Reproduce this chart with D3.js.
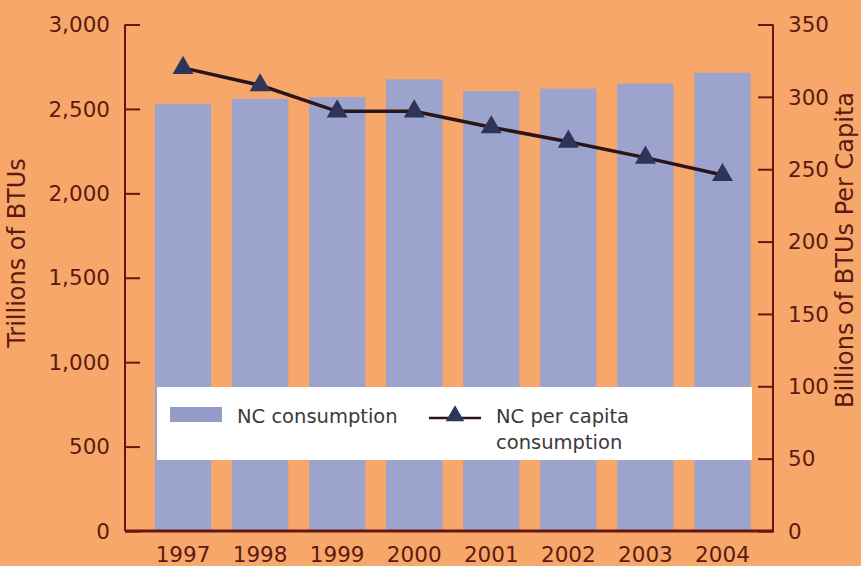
<!DOCTYPE html>
<html>
<head>
<meta charset="utf-8">
<script src="https://cdn.jsdelivr.net/npm/d3@7"></script>
<style>
  html, body { margin: 0; padding: 0; background: #F8A76A; }
  svg { display: block; }
  text { font-family: "DejaVu Sans", sans-serif; fill: #5C1A12; }
</style>
</head>
<body>
<svg id="chart" width="861" height="566"></svg>
<script>
// North Carolina energy consumption, 1997–2004
const years = ["1997", "1998", "1999", "2000", "2001", "2002", "2003", "2004"];
const totalConsumption = [2530, 2560, 2570, 2675, 2605, 2620, 2650, 2715];   // trillions of BTUs
const perCapita = [320, 308, 290, 290, 279, 269, 258, 246];                    // billions of BTUs per capita
const leftTicks = [0, 500, 1000, 1500, 2000, 2500, 3000];
const rightTicks = [0, 50, 100, 150, 200, 250, 300, 350];
const legendLabels = ["NC consumption", ["NC per capita", "consumption"]];

const svg = d3.select("#chart");
const axisColor = "#641710";
const barColor = "#9CA3CD";
const lineColor = "#2B1519";
const markerColor = "#2F3558";
const tickFont = 21.5;

const x0 = 125, x1 = 774, yBottom = 531, yTop = 24.5;

const x = d3.scaleBand()
  .domain(years)
  .range([144.5, 761])
  .paddingInner(0.27)
  .paddingOuter(0.135);

const yL = d3.scaleLinear().domain([0, 3000]).range([yBottom, yTop]);
const yR = d3.scaleLinear().domain([0, 350]).range([yBottom, yTop]);

// bars
svg.append("g").selectAll("rect")
  .data(years)
  .join("rect")
  .attr("x", d => x(d))
  .attr("width", x.bandwidth())
  .attr("y", (d, i) => yL(totalConsumption[i]))
  .attr("height", (d, i) => yBottom - yL(totalConsumption[i]))
  .attr("fill", barColor);

// left axis
const axL = svg.append("g")
  .attr("transform", `translate(${x0},0)`)
  .call(d3.axisRight(yL).tickValues(leftTicks).tickSize(15).tickFormat(""));
axL.select(".domain").attr("d", `M0,${yTop}V${yBottom}`);
axL.selectAll("path, line").attr("stroke", axisColor).attr("stroke-width", 2);

svg.append("g").selectAll("text")
  .data(leftTicks)
  .join("text")
  .attr("x", 110)
  .attr("y", d => yL(d))
  .attr("dy", "0.36em")
  .attr("text-anchor", "end")
  .attr("font-size", tickFont)
  .text(d => d3.format(",")(d));

// right axis
const axR = svg.append("g")
  .attr("transform", `translate(${x1 - 1},0)`)
  .call(d3.axisLeft(yR).tickValues(rightTicks).tickSize(15).tickFormat(""));
axR.select(".domain").attr("d", `M0,${yTop}V${yBottom}`);
axR.selectAll("path, line").attr("stroke", axisColor).attr("stroke-width", 2);

svg.append("g").selectAll("text")
  .data(rightTicks)
  .join("text")
  .attr("x", 788)
  .attr("y", d => yR(d))
  .attr("dy", "0.36em")
  .attr("text-anchor", "start")
  .attr("font-size", tickFont)
  .text(d => d);

// bottom axis
svg.append("line")
  .attr("x1", x0).attr("x2", x1)
  .attr("y1", yBottom).attr("y2", yBottom)
  .attr("stroke", axisColor).attr("stroke-width", 3);

svg.append("g").selectAll("text")
  .data(years)
  .join("text")
  .attr("x", d => x(d) + x.bandwidth() / 2)
  .attr("y", 562)
  .attr("text-anchor", "middle")
  .attr("font-size", tickFont)
  .text(d => d);

// axis titles
svg.append("text")
  .attr("transform", "translate(25,253) rotate(-90)")
  .attr("text-anchor", "middle")
  .attr("font-family", "Liberation Sans, Arial, sans-serif")
  .attr("font-size", 24)
  .text("Trillions of BTUs");

svg.append("text")
  .attr("transform", "translate(853,250) rotate(-90)")
  .attr("text-anchor", "middle")
  .attr("font-family", "Liberation Sans, Arial, sans-serif")
  .attr("font-size", 24)
  .text("Billions of BTUs Per Capita");

// per capita line
const cx = d => x(d) + x.bandwidth() / 2;
const line = d3.line()
  .x((d, i) => cx(years[i]))
  .y(d => yR(d));

svg.append("path")
  .datum(perCapita)
  .attr("d", line)
  .attr("fill", "none")
  .attr("stroke", lineColor)
  .attr("stroke-width", 3.5);

const tri = d3.symbol().type(d3.symbolTriangle).size(190);
svg.append("g").selectAll("path")
  .data(perCapita)
  .join("path")
  .attr("transform", (d, i) => `translate(${cx(years[i])},${yR(d)})`)
  .attr("d", tri)
  .attr("fill", markerColor);

// legend
const lg = svg.append("g");
lg.append("rect")
  .attr("x", 157).attr("y", 387)
  .attr("width", 595).attr("height", 73)
  .attr("fill", "#FFFFFF");
lg.append("rect")
  .attr("x", 170).attr("y", 407)
  .attr("width", 52).attr("height", 15)
  .attr("fill", "#959BC8");
lg.append("text")
  .attr("x", 237).attr("y", 423)
  .attr("font-size", 19.5)
  .style("fill", "#3A3A3A")
  .text(legendLabels[0]);
lg.append("line")
  .attr("x1", 429).attr("x2", 481)
  .attr("y1", 418).attr("y2", 418)
  .attr("stroke", lineColor).attr("stroke-width", 2.5);
lg.append("path")
  .attr("transform", "translate(455,416)")
  .attr("d", d3.symbol().type(d3.symbolTriangle).size(150))
  .attr("fill", markerColor);
lg.append("text")
  .attr("x", 496).attr("y", 423)
  .attr("font-size", 19.5)
  .style("fill", "#3A3A3A")
  .selectAll("tspan")
  .data(legendLabels[1])
  .join("tspan")
  .attr("x", 496)
  .attr("dy", (d, i) => i === 0 ? 0 : 26)
  .text(d => d);
</script>
</body>
</html>
